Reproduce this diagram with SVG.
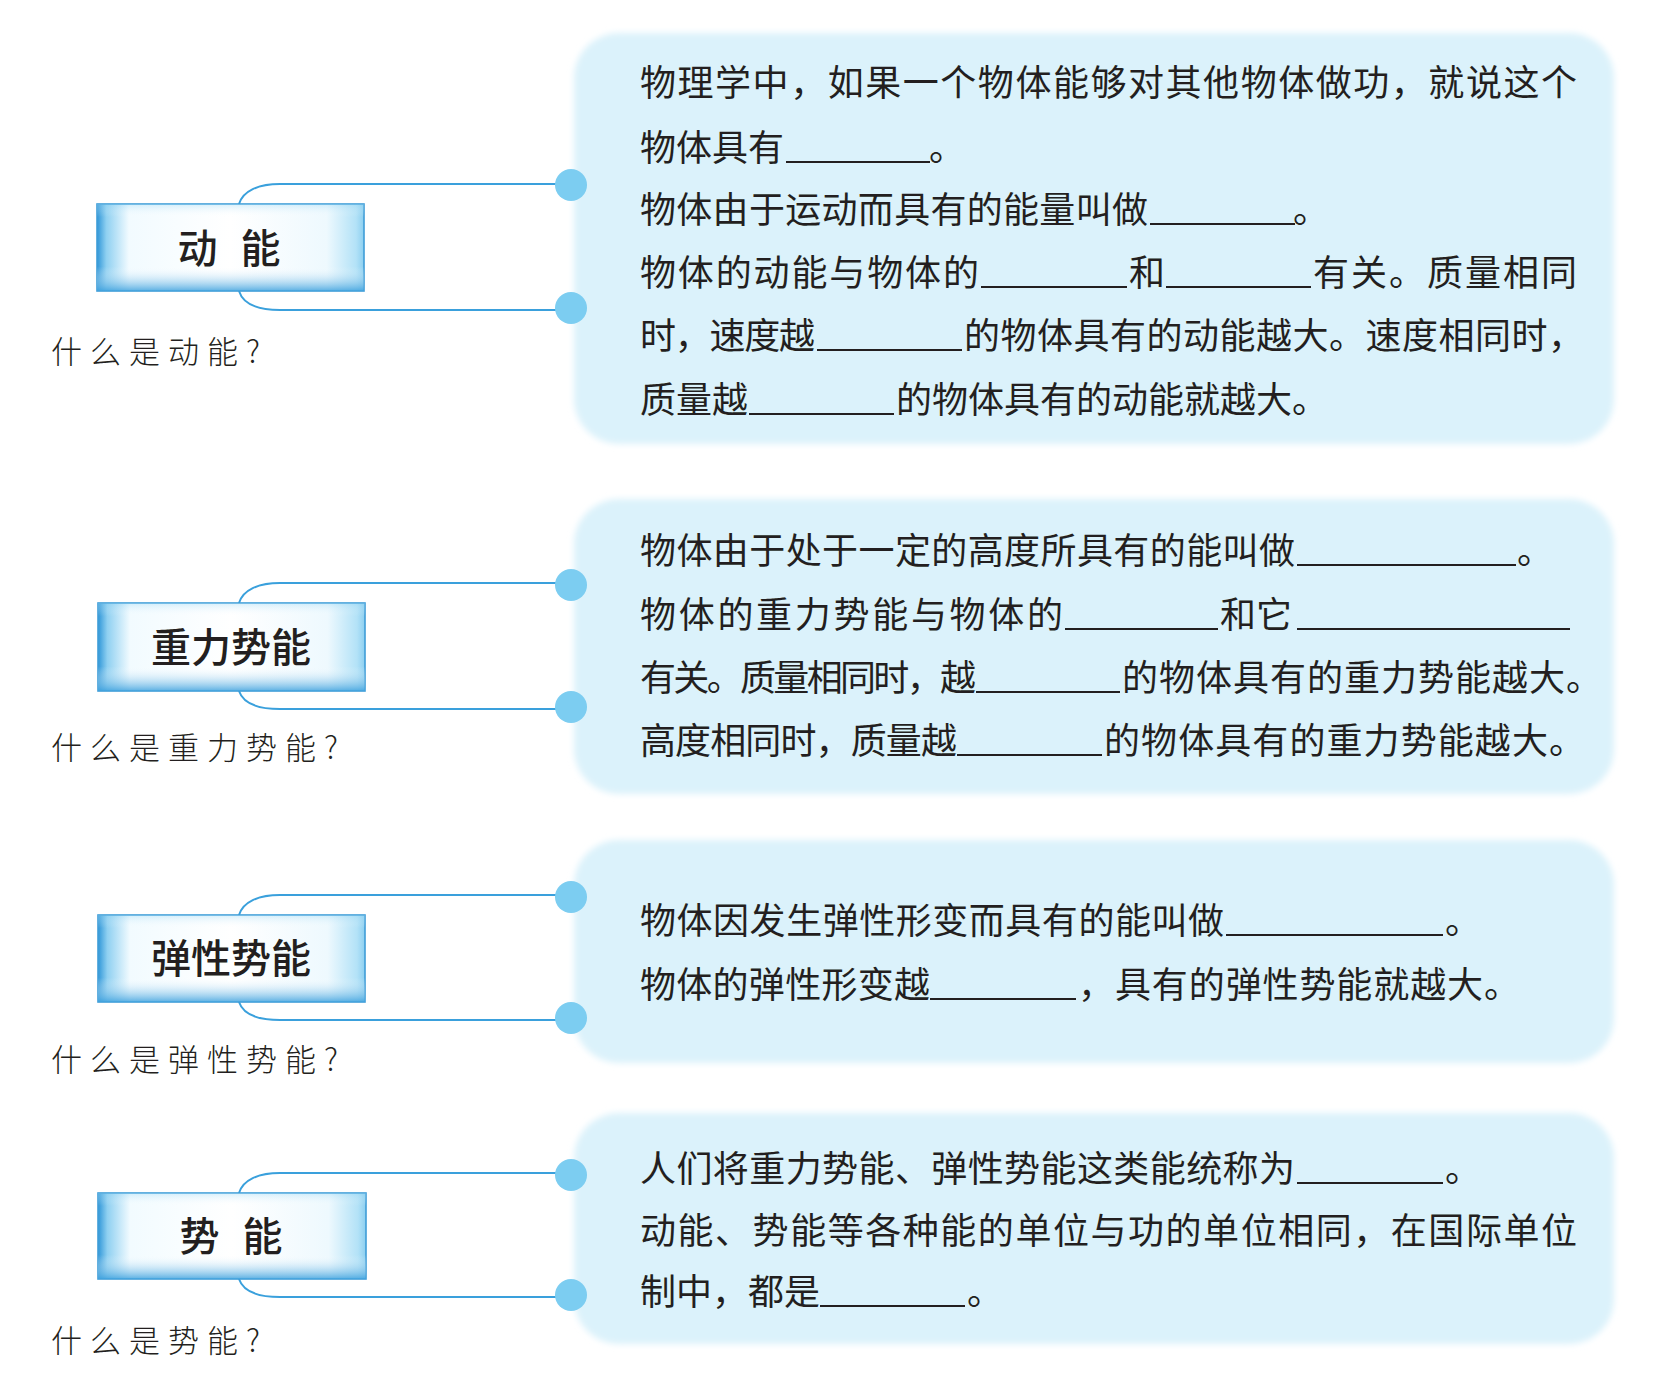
<svg xmlns="http://www.w3.org/2000/svg" width="1654" height="1382" viewBox="0 0 1654 1382">
<style>
.panel{fill:#dbf2fb;filter:url(#soft)}
.box{stroke:#3f9dd8;stroke-width:1.6}
.boxtxt{font-family:"Noto Sans CJK SC","Noto Sans",sans-serif;font-size:40px;font-weight:500;fill:#231f20;text-anchor:middle}
.q{font-family:"Noto Sans CJK SC",sans-serif;font-size:31px;font-weight:300;fill:#231f20;letter-spacing:8px}
.t{font-family:"Noto Sans CJK SC",sans-serif;font-size:36px;fill:#231f20}
.blank{stroke:#231f20;stroke-width:2}
.conn{fill:none;stroke:#3aa0dc;stroke-width:2}
.dot{fill:#7ccdf1}
</style>
<defs>
<filter id="soft" x="-5%" y="-5%" width="110%" height="110%"><feGaussianBlur stdDeviation="3"/></filter>
<linearGradient id="boxH" x1="0" y1="0" x2="1" y2="0">
<stop offset="0" stop-color="#2f96d8"/>
<stop offset="0.035" stop-color="#8fd0f1"/>
<stop offset="0.12" stop-color="#f2fbff"/>
<stop offset="0.5" stop-color="#ffffff"/>
<stop offset="0.86" stop-color="#eef9fe"/>
<stop offset="0.97" stop-color="#b3e2f7"/>
<stop offset="1" stop-color="#8ccff0"/>
</linearGradient>
<linearGradient id="boxV" x1="0" y1="0" x2="0" y2="1">
<stop offset="0" stop-color="#8fd2f2" stop-opacity="0.35"/>
<stop offset="0.15" stop-color="#ffffff" stop-opacity="0"/>
<stop offset="0.72" stop-color="#ffffff" stop-opacity="0"/>
<stop offset="1" stop-color="#3fa2de" stop-opacity="0.85"/>
</linearGradient>
</defs>
<rect width="1654" height="1382" fill="#ffffff"/>

<g id="panel-kinetic">
<rect class="panel" x="574" y="33" width="1040" height="411" rx="45"/>
<text class="t" x="640" y="96" textLength="937">物理学中，如果一个物体能够对其他物体做功，就说这个</text>
<text class="t" x="640" y="161">物体具有</text><line class="blank" x1="786" y1="162" x2="930" y2="162"/><text class="t" x="929" y="161">。</text>
<text class="t" x="640" y="223" textLength="508">物体由于运动而具有的能量叫做</text><line class="blank" x1="1150" y1="224" x2="1295" y2="224"/><text class="t" x="1293" y="223">。</text>
<text class="t" x="640" y="286" textLength="339">物体的动能与物体的</text><line class="blank" x1="981" y1="287" x2="1127" y2="287"/><text class="t" x="1129" y="286">和</text><line class="blank" x1="1166" y1="287" x2="1311" y2="287"/><text class="t" x="1313" y="286" textLength="264">有关。质量相同</text>
<text class="t" x="640" y="349" textLength="175">时，速度越</text><line class="blank" x1="817" y1="350" x2="962" y2="350"/><text class="t" x="964" y="349" textLength="620">的物体具有的动能越大。速度相同时，</text>
<text class="t" x="640" y="413">质量越</text><line class="blank" x1="749" y1="414" x2="894" y2="414"/><text class="t" x="896" y="413">的物体具有的动能就越大。</text>
</g>

<g id="panel-gravity">
<rect class="panel" x="574" y="499" width="1040" height="295" rx="45"/>
<text class="t" x="640" y="564" textLength="655">物体由于处于一定的高度所具有的能叫做</text><line class="blank" x1="1297" y1="565" x2="1516" y2="565"/><text class="t" x="1517" y="564">。</text>
<text class="t" x="640" y="628" textLength="423">物体的重力势能与物体的</text><line class="blank" x1="1065" y1="629" x2="1218" y2="629"/><text class="t" x="1220" y="628" textLength="72">和它</text><line class="blank" x1="1297" y1="629" x2="1570" y2="629"/>
<text class="t" x="640" y="691" textLength="336">有关。质量相同时，越</text><line class="blank" x1="976" y1="692" x2="1120" y2="692"/><text class="t" x="1122" y="691" textLength="480">的物体具有的重力势能越大。</text>
<text class="t" x="640" y="754" textLength="317">高度相同时，质量越</text><line class="blank" x1="957" y1="755" x2="1102" y2="755"/><text class="t" x="1104" y="754" textLength="481">的物体具有的重力势能越大。</text>
</g>

<g id="panel-elastic">
<rect class="panel" x="574" y="840" width="1040" height="223" rx="45"/>
<text class="t" x="640" y="934" textLength="584">物体因发生弹性形变而具有的能叫做</text><line class="blank" x1="1226" y1="935" x2="1443" y2="935"/><text class="t" x="1445" y="934">。</text>
<text class="t" x="640" y="998" textLength="290">物体的弹性形变越</text><line class="blank" x1="930" y1="999" x2="1076" y2="999"/><text class="t" x="1078" y="998" textLength="442">，具有的弹性势能就越大。</text>
</g>

<g id="panel-potential">
<rect class="panel" x="574" y="1113" width="1040" height="231" rx="45"/>
<text class="t" x="640" y="1182" textLength="655">人们将重力势能、弹性势能这类能统称为</text><line class="blank" x1="1297" y1="1183" x2="1443" y2="1183"/><text class="t" x="1445" y="1182">。</text>
<text class="t" x="640" y="1244" textLength="937">动能、势能等各种能的单位与功的单位相同，在国际单位</text>
<text class="t" x="640" y="1305" textLength="180">制中，都是</text><line class="blank" x1="820" y1="1306" x2="965" y2="1306"/><text class="t" x="967" y="1305">。</text>
</g>

<g id="connectors">
<path class="conn" d="M239,204 C243,191 258,184 280,184 H570"/>
<path class="conn" d="M239,291 C243,304 258,310 280,310 H570"/>
<path class="conn" d="M239,603 C243,590 258,583 280,583 H570"/>
<path class="conn" d="M239,691 C243,703 258,709 280,709 H570"/>
<path class="conn" d="M239,915 C243,902 258,895 280,895 H570"/>
<path class="conn" d="M239,1002 C243,1014 258,1020 280,1020 H570"/>
<path class="conn" d="M239,1193 C243,1180 258,1173 280,1173 H570"/>
<path class="conn" d="M239,1279 C243,1291 258,1297 280,1297 H570"/>
<circle class="dot" cx="571" cy="185" r="16"/>
<circle class="dot" cx="571" cy="308" r="16"/>
<circle class="dot" cx="571" cy="585" r="16"/>
<circle class="dot" cx="571" cy="707" r="16"/>
<circle class="dot" cx="571" cy="897" r="16"/>
<circle class="dot" cx="571" cy="1018" r="16"/>
<circle class="dot" cx="571" cy="1175" r="16"/>
<circle class="dot" cx="571" cy="1295" r="16"/>
</g>

<g id="node-kinetic">
<rect class="box" x="97" y="204" width="267" height="87" fill="url(#boxH)"/>
<rect x="97" y="204" width="267" height="87" fill="url(#boxV)"/>
<text class="boxtxt" x="229" y="263" word-spacing="14">动 能</text>
<text class="q" x="51" y="363">什么是动能?</text>
</g>

<g id="node-gravity">
<rect class="box" x="98" y="603" width="267" height="88" fill="url(#boxH)"/>
<rect x="98" y="603" width="267" height="88" fill="url(#boxV)"/>
<text class="boxtxt" x="231" y="662">重力势能</text>
<text class="q" x="51" y="759">什么是重力势能?</text>
</g>

<g id="node-elastic">
<rect class="box" x="98" y="915" width="267" height="87" fill="url(#boxH)"/>
<rect x="98" y="915" width="267" height="87" fill="url(#boxV)"/>
<text class="boxtxt" x="231" y="973">弹性势能</text>
<text class="q" x="51" y="1071">什么是弹性势能?</text>
</g>

<g id="node-potential">
<rect class="box" x="98" y="1193" width="268" height="86" fill="url(#boxH)"/>
<rect x="98" y="1193" width="268" height="86" fill="url(#boxV)"/>
<text class="boxtxt" x="231" y="1251" word-spacing="14">势 能</text>
<text class="q" x="51" y="1352">什么是势能?</text>
</g>
</svg>
